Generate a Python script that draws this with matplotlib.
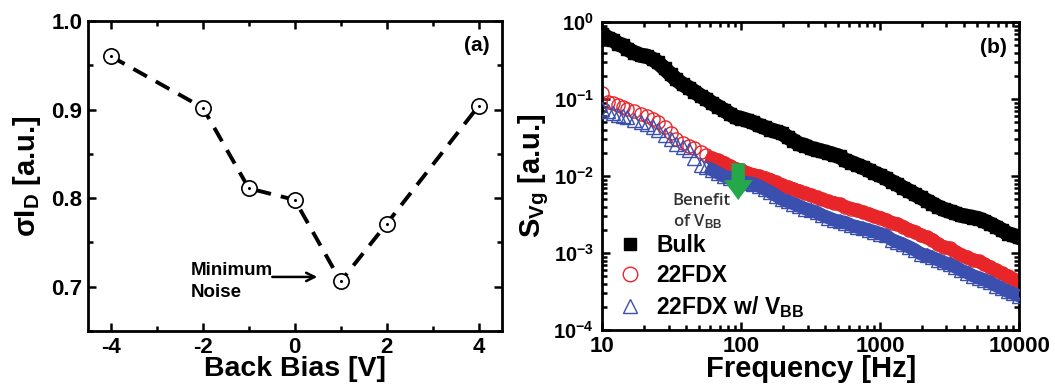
import matplotlib
matplotlib.use("Agg")
import matplotlib.pyplot as plt
from matplotlib.ticker import MultipleLocator, LogLocator, NullFormatter

plt.rcParams['font.family'] = ['Liberation Sans', 'DejaVu Sans']
plt.rcParams['font.weight'] = 'bold'
plt.rcParams['axes.labelweight'] = 'bold'
plt.rcParams['axes.unicode_minus'] = False
plt.rcParams['mathtext.fontset'] = 'custom'
plt.rcParams['mathtext.rm'] = 'Liberation Sans:bold'
plt.rcParams['mathtext.it'] = 'Liberation Sans:bold'
plt.rcParams['mathtext.bf'] = 'Liberation Sans:bold'
plt.rcParams['mathtext.default'] = 'rm'

# panel (a): sigma I_D vs back bias
bias = [-4, -2, -1, 0, 1, 2, 4]
sigma_id = [0.960, 0.902, 0.811, 0.798, 0.706, 0.771, 0.904]

# panel (b): noise spectra
freq = [10, 11, 12, 13, 14, 15, 17, 19, 21, 23, 25, 28, 31, 34, 38, 42, 46, 51,
        56, 62, 68, 75, 83, 91, 100, 110, 121, 133, 147, 162, 178, 196, 216,
        237, 261, 287, 316, 348, 383, 422, 464, 511, 562, 619, 681, 750, 825,
        909, 1000, 1100, 1210, 1330, 1470, 1620, 1780, 1960, 2160, 2370, 2610,
        2870, 3160, 3480, 3830, 4220, 4640, 5110, 5620, 6190, 6810, 7500, 8250,
        9090, 10000]
bulk = [0.70, 0.62, 0.58, 0.52, 0.50, 0.45, 0.40, 0.37, 0.36, 0.33, 0.30, 0.25,
        0.21, 0.18, 0.155, 0.14, 0.125, 0.11, 0.10, 0.088, 0.080, 0.072, 0.064,
        0.058, 0.056, 0.053, 0.050, 0.046, 0.043, 0.040, 0.038, 0.036, 0.032,
        0.029, 0.026, 0.025, 0.023, 0.022, 0.021, 0.020, 0.019, 0.018, 0.016,
        0.015, 0.014, 0.013, 0.012, 0.011, 0.0102, 0.0094, 0.0085, 0.0078,
        0.0070, 0.0064, 0.0058, 0.0053, 0.0048, 0.0044, 0.0040, 0.0037, 0.0035,
        0.0033, 0.0031, 0.0030, 0.0029, 0.0028, 0.0026, 0.0024, 0.0022, 0.0020,
        0.0018, 0.0017, 0.0016]
fdx = [0.12, 0.092, 0.088, 0.085, 0.080, 0.075, 0.070, 0.064, 0.061, 0.056,
       0.050, 0.043, 0.036, 0.030, 0.027, 0.025, 0.023, 0.0205, 0.019, 0.017,
       0.016, 0.015, 0.0135, 0.0125, 0.012, 0.011, 0.0105, 0.0100, 0.0095,
       0.0090, 0.0083, 0.0077, 0.0072, 0.0068, 0.0064, 0.0060, 0.0057, 0.0053,
       0.0050, 0.0047, 0.0045, 0.0043, 0.0040, 0.0038, 0.0036, 0.0034, 0.0032,
       0.0030, 0.0029, 0.0027, 0.0025, 0.0024, 0.0022, 0.0020, 0.0019, 0.0017,
       0.0016, 0.0015, 0.0013, 0.0012, 0.00115, 0.00105, 0.00095, 0.00088,
       0.00082, 0.00078, 0.00072, 0.00066, 0.00060, 0.00055, 0.00050, 0.00046,
       0.00043]
fdx_vbb = [0.075, 0.070, 0.066, 0.062, 0.060, 0.058, 0.054, 0.050, 0.047,
           0.044, 0.040, 0.034, 0.030, 0.026, 0.024, 0.022, 0.017, 0.014,
           0.013, 0.012, 0.011, 0.010, 0.0095, 0.0090, 0.0085, 0.0082, 0.0080,
           0.0075, 0.0068, 0.0062, 0.0056, 0.0050, 0.0047, 0.0044, 0.0041,
           0.0038, 0.0036, 0.0034, 0.0031, 0.0029, 0.0027, 0.0026, 0.0025,
           0.0023, 0.0022, 0.0021, 0.0020, 0.0019, 0.0018, 0.0017, 0.0015,
           0.0014, 0.0013, 0.0012, 0.0011, 0.00098, 0.00094, 0.00088, 0.00082,
           0.00076, 0.00072, 0.00066, 0.00060, 0.00056, 0.00051, 0.00048,
           0.00045, 0.00042, 0.00038, 0.00035, 0.00032, 0.00030, 0.00028]

RED = '#e8262a'
BLUE = '#3a4fae'
GREEN = '#25a84a'


def style_axes(ax):
    for s in ax.spines.values():
        s.set_linewidth(2.0)
    ax.tick_params(which='both', direction='in', top=True, right=True,
                   width=1.8, labelsize=16, pad=4)
    ax.tick_params(which='major', length=6)
    ax.tick_params(which='minor', length=3.5)


fig = plt.figure(figsize=(10.55, 3.88), dpi=100)
ax1 = fig.add_axes([0.0834, 0.147, 0.392, 0.799])
ax2 = fig.add_axes([0.571, 0.149, 0.395, 0.794])

# ---- (a)
ax1.plot(bias, sigma_id, color='black', lw=2.8, dashes=(4, 2.6),
         marker='o', ms=11, mfc='white', mec='black', mew=1.2)
ax1.plot(bias, sigma_id, ls='none', marker='o', ms=1.2, color='black')
ax1.set_xlim(-4.5, 4.5)
ax1.set_ylim(0.65, 1.0)
ax1.xaxis.set_major_locator(MultipleLocator(2))
ax1.xaxis.set_minor_locator(MultipleLocator(1))
ax1.yaxis.set_major_locator(MultipleLocator(0.1))
ax1.yaxis.set_minor_locator(MultipleLocator(0.05))
style_axes(ax1)
ax1.set_xlabel('Back Bias [V]', fontsize=20.5, labelpad=-1)
ax1.set_ylabel('σI$_{D}$ [a.u.]', fontsize=21, labelpad=6)
ax1.text(0.97, 0.95, '(a)', transform=ax1.transAxes, ha='right', va='top',
         fontsize=15)
ax1.text(-2.26, 0.709, 'Minimum', fontsize=13.5, ha='left', va='bottom')
ax1.text(-2.26, 0.703, 'Noise', fontsize=13.5, ha='left', va='top')
ax1.annotate('', xy=(0.55, 0.711), xytext=(-0.55, 0.711),
             arrowprops=dict(arrowstyle='->,head_length=0.6,head_width=0.3',
                             color='black', lw=1.8))

# ---- (b)
# dense spectra merge into solid bands
ax2.plot(freq, bulk, color='black', lw=11, solid_joinstyle='round', zorder=2)
ax2.plot(freq[19:], fdx[19:], color=RED, lw=9.5, zorder=2)
ax2.plot(freq[19:], fdx_vbb[19:], color=BLUE, lw=9.5, zorder=3)
ax2.plot(freq, bulk, ls='none', marker='s', ms=8, color='black',
         label='Bulk', zorder=2)
ax2.plot(freq, fdx, ls='none', marker='o', ms=9.5, mfc='none', mec=RED,
         mew=1.0, label='22FDX', zorder=2)
ax2.plot(freq, fdx_vbb, ls='none', marker='^', ms=9.5, mfc='none', mec=BLUE,
         mew=1.0, label='22FDX w/ V$_{BB}$', zorder=3)
ax2.set_xscale('log')
ax2.set_yscale('log')
ax2.set_xlim(10, 10000)
ax2.set_ylim(1e-4, 1)
ax2.set_xticks([10, 100, 1000, 10000])
ax2.set_xticklabels(['10', '100', '1000', '10000'])
ax2.xaxis.set_minor_locator(LogLocator(base=10, subs=range(2, 10)))
ax2.xaxis.set_minor_formatter(NullFormatter())
ax2.yaxis.set_major_locator(LogLocator(base=10))
ax2.yaxis.set_minor_locator(LogLocator(base=10, subs=range(2, 10)))
ax2.yaxis.set_minor_formatter(NullFormatter())
style_axes(ax2)
ax2.tick_params(axis='y', labelsize=14.5, pad=6)
ax2.set_xlabel('Frequency [Hz]', fontsize=21, labelpad=-1)
ax2.set_ylabel('S$_{Vg}$ [a.u.]', fontsize=21, labelpad=2)
ax2.text(0.97, 0.95, '(b)', transform=ax2.transAxes, ha='right', va='top',
         fontsize=15)
ax2.annotate('', xy=(95, 0.0045), xytext=(95, 0.016),
             arrowprops=dict(arrowstyle='simple,head_width=1.3,head_length=0.9,tail_width=0.6',
                             color=GREEN, mutation_scale=16, lw=0), zorder=5)
ax2.text(32, 0.0060, 'Benefit\nof V$_{BB}$', fontsize=12, fontweight='semibold',
         ha='left', va='top', linespacing=1.2,
         family=['Open Sans', 'DejaVu Sans'], color='#333333')
leg = ax2.legend(loc='lower left', bbox_to_anchor=(0.0, 0.0), frameon=False,
                 prop={'size': 16.5, 'weight': 'bold'}, handletextpad=0.4,
                 labelspacing=0.3, markerscale=1.1, borderaxespad=0.05,
                 handlelength=1.5)

fig.savefig('out.png', dpi=100)
